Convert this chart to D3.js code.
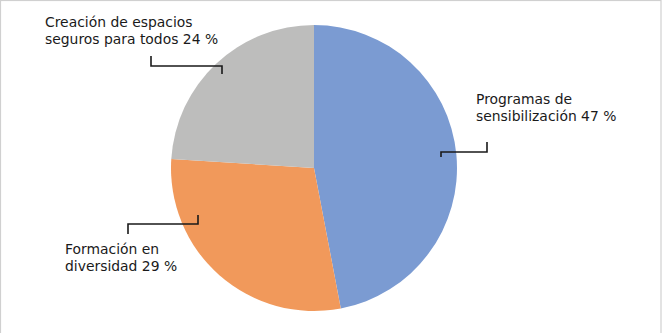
<!DOCTYPE html>
<html>
<head>
<meta charset="utf-8">
<script src="https://cdn.jsdelivr.net/npm/d3@7"></script>
<style>
  body { margin: 0; background: #fff; }
  svg { display: block; }
  text { font-family: "DejaVu Sans", Verdana, sans-serif; font-size: 13.9px; fill: #1a1a1a; }
</style>
</head>
<body>
<svg id="chart"></svg>
<script>
// data
const categories = ["Programas de sensibilización", "Formación en diversidad", "Creación de espacios seguros para todos"];
const values = [47, 29, 24];
const labelLines = [
  ["Programas de", "sensibilización 47 %"],
  ["Formación en", "diversidad 29 %"],
  ["Creación de espacios", "seguros para todos 24 %"]
];
const colors = ["#7B9BD2", "#F1995B", "#BDBDBC"];

// label layout (positions only)
const labelPos = [
  { x: 476, y: 104, line: [[487, 142], [487, 152], [441, 152], [441, 157]] },
  { x: 65, y: 254, line: [[198, 215], [198, 224], [128, 224], [128, 234]] },
  { x: 45, y: 27, line: [[151, 56], [151, 66], [222, 66], [222, 74]] }
];

const width = 662, height = 333;
const cx = 314, cy = 168, radius = 143;

const svg = d3.select('#chart').attr('width', width).attr('height', height);

// frame
svg.append('rect')
  .attr('x', 0.5).attr('y', 0.5)
  .attr('width', 660.5).attr('height', height + 5)
  .attr('fill', 'none')
  .attr('stroke', '#D0D0D0')
  .attr('stroke-width', 1.2);

const pie = d3.pie().sort(null).value(d => d.value);
const arc = d3.arc().innerRadius(0).outerRadius(radius);

const data = categories.map((c, i) => ({ name: c, value: values[i], color: colors[i] }));

const g = svg.append('g').attr('transform', `translate(${cx},${cy})`);

g.selectAll('path')
  .data(pie(data))
  .join('path')
  .attr('d', arc)
  .attr('fill', d => d.data.color);

// leader lines
const line = d3.line();
svg.selectAll('.leader')
  .data(labelPos)
  .join('path')
  .attr('class', 'leader')
  .attr('d', d => line(d.line))
  .attr('fill', 'none')
  .attr('stroke', '#1a1a1a')
  .attr('stroke-width', 1.6);

// labels
svg.selectAll('.lbl')
  .data(labelLines)
  .join('text')
  .attr('class', 'lbl')
  .attr('x', (d, i) => labelPos[i].x)
  .attr('y', (d, i) => labelPos[i].y)
  .each(function (d, i) {
    d3.select(this).selectAll('tspan')
      .data(d)
      .join('tspan')
      .attr('x', labelPos[i].x)
      .attr('dy', (t, j) => j === 0 ? 0 : 17)
      .text(t => t);
  });
</script>
</body>
</html>
